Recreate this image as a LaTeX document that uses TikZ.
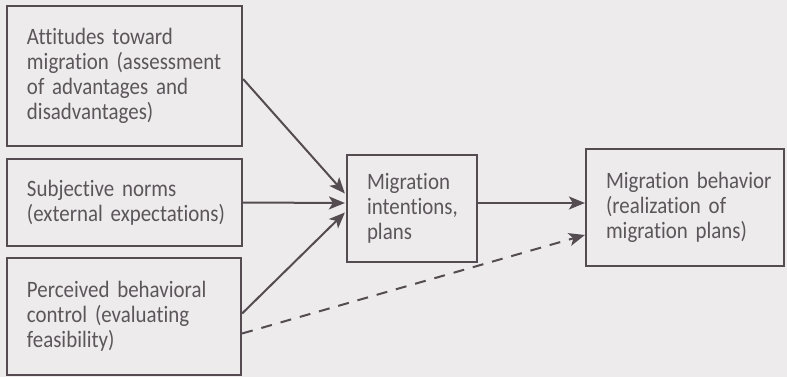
\documentclass[tikz,border=0pt]{standalone}
\usepackage{fontspec}
\setmainfont[FakeStretch=0.89,Ligatures=NoCommon]{Carlito}
\usetikzlibrary{arrows.meta,calc}

\definecolor{paper}{RGB}{237,235,235}
\definecolor{ink}{RGB}{84,76,80}
\definecolor{txt}{RGB}{92,86,90}
\newcommand\boxfont{\fontsize{23.5}{25}\selectfont\hyphenpenalty=10000\relax}

\tikzset{
  factor/.style={draw=ink,line width=2.2pt,rectangle,inner xsep=20pt,inner ysep=0pt,
    align=left,text=txt,font=\boxfont},
  link/.style={draw=ink,line width=2pt,-{Stealth[length=16pt,width=13pt,inset=4pt]}},
}

\begin{document}
\begin{tikzpicture}[x=1pt,y=-1pt]
  \fill[paper] (0,0) rectangle (787,377);
  \useasboundingbox (0,0) rectangle (787,377);
  \node[factor,minimum width=235pt,minimum height=140pt,text width=195pt] (att) at (124.5,76)
    {Attitudes~toward\\migration~(assessment\\of~advantages~and\\disadvantages)};
  \node[factor,minimum width=235pt,minimum height=87pt,text width=195pt] (norm) at (124.5,202.5)
    {Subjective~norms\\(external~expectations)};
  \node[factor,minimum width=234pt,minimum height=117pt,text width=194pt] (ctrl) at (124,316.5)
    {Perceived~behavioral\\control~(evaluating\\feasibility)};
  \node[factor,minimum width=130pt,minimum height=107pt,text width=90pt] (intent) at (412,208.5)
    {Migration\\intentions,\\plans};
  \node[factor,minimum width=198pt,minimum height=117pt,text width=158pt] (behav) at (685,207.5)
    {Migration~behavior\\(realization~of\\migration~plans)};
  \draw[link] ($(att.east)+(0,3)$) -- ($(intent.west)+(-1,-15)$);
  \draw[link] (norm.east) -- ($(intent.west)+(-1,-5.5)$);
  \draw[link] ($(ctrl.east)+(0,-3)$) -- ($(intent.west)+(-1,4)$);
  \draw[link] ($(intent.east)+(0,-5.5)$) -- ($(behav.west)+(0,-4.5)$);
  \draw[link,dash pattern=on 11pt off 9pt] ($(ctrl.east)+(0,17)$) -- ($(behav.west)+(0,27.5)$);
\end{tikzpicture}
\end{document}
